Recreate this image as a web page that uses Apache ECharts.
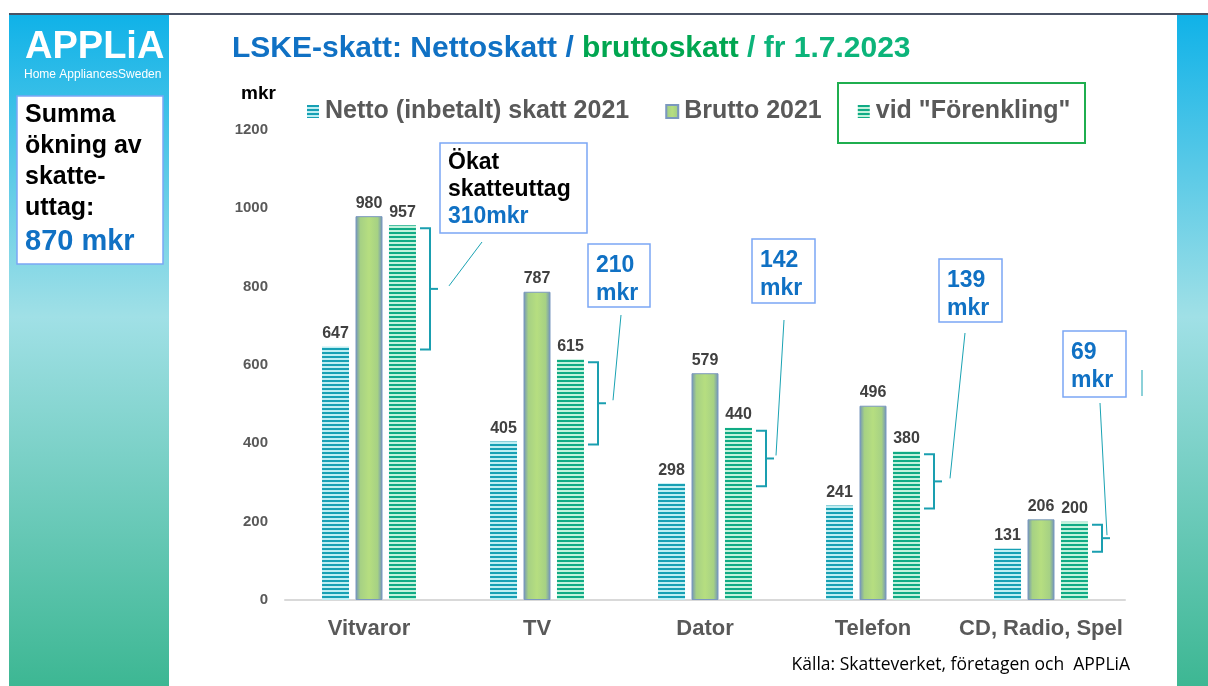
<!DOCTYPE html>
<html>
<head>
<meta charset="utf-8">
<script src="https://cdn.jsdelivr.net/npm/echarts@6/dist/echarts.min.js"></script>
<style>
  html, body { margin: 0; padding: 0; background: #fff; }
  #main { width: 1208px; height: 686px; }
</style>
</head>
<body>
<div id="main"></div>
<script>
var categories = ['Vitvaror', 'TV', 'Dator', 'Telefon', 'CD, Radio, Spel'];
var netto = [647, 405, 298, 241, 131];
var brutto = [980, 787, 579, 496, 206];
var forenkling = [957, 615, 440, 380, 200];
var okning = [310, 210, 142, 139, 69];
var yTicks = [0, 200, 400, 600, 800, 1000, 1200];

// note boxes (layout only): box rect + where the leader line ends
var notes = [
    {x: 440, y: 143, w: 147, h: 90, lx: 482, ly: 242, dx: 80},
    {x: 588, y: 244, w: 62, h: 63, lx: 621, ly: 315, dx: 76},
    {x: 752, y: 239, w: 63, h: 64, lx: 784, ly: 320, dx: 71},
    {x: 939, y: 259, w: 63, h: 63, lx: 965, ly: 333, dx: 77},
    {x: 1063, y: 331, w: 63, h: 66, lx: 1100, ly: 403, dx: 66}
];

var FONT = '"Liberation Sans", Arial, sans-serif';
var BLUE = '#1071c4';

function stripes(dark, light) {
    var c = document.createElement('canvas');
    c.width = 4; c.height = 4;
    var ctx = c.getContext('2d');
    ctx.fillStyle = light; ctx.fillRect(0, 0, 4, 4);
    ctx.fillStyle = dark; ctx.fillRect(0, 0, 4, 2);
    return {image: c, repeat: 'repeat'};
}

var sideGrad = {
    type: 'linear', x: 0, y: 0, x2: 0, y2: 1,
    colorStops: [
        {offset: 0, color: '#10b2e8'},
        {offset: 0.45, color: '#a0e0e6'},
        {offset: 1, color: '#3db793'}
    ]
};

var bruttoColor = {
    type: 'linear', x: 0, y: 0, x2: 1, y2: 0,
    colorStops: [
        {offset: 0, color: '#6f90bb'},
        {offset: 0.18, color: '#a6d184'},
        {offset: 0.5, color: '#b6de80'},
        {offset: 0.82, color: '#a6d184'},
        {offset: 1, color: '#6f90bb'}
    ]
};

var bracketData = categories.map(function (c, i) {
    return [i, forenkling[i], netto[i]];
});

function renderBracket(params, api) {
    var i = api.value(0);
    var top = api.coord([i, api.value(1)]);
    var bot = api.coord([i, api.value(2)]);
    var cx = top[0];
    var yt = top[1] + 3, yb = bot[1] + 3, ym = (yt + yb) / 2;
    var st = {stroke: '#1a9fb0', lineWidth: 2, fill: null};
    var n = notes[i];
    return {
        type: 'group',
        children: [
            {type: 'polyline', shape: {points: [[cx + 51, yt], [cx + 61, yt], [cx + 61, yb], [cx + 51, yb]]}, style: st},
            {type: 'line', shape: {x1: cx + 61, y1: ym, x2: cx + 69, y2: ym}, style: st},
            {type: 'line', shape: {x1: cx + n.dx, y1: ym - 3, x2: n.lx, y2: n.ly}, style: {stroke: '#1aa3b3', lineWidth: 1}}
        ]
    };
}

var graphics = [
    {type: 'rect', shape: {x: 9, y: 15, width: 160, height: 671}, style: {fill: sideGrad}, silent: true},
    {type: 'rect', shape: {x: 1177, y: 15, width: 31, height: 671}, style: {fill: sideGrad}, silent: true},
    {type: 'line', shape: {x1: 9, y1: 14, x2: 1208, y2: 14}, style: {stroke: '#4a5264', lineWidth: 2}},
    {type: 'text', left: 25, top: 29, style: {text: 'APPLiA', fill: '#fff', font: 'bold 38px ' + FONT}},
    {type: 'text', left: 24, top: 69, style: {text: 'Home AppliancesSweden', fill: '#fff', font: '12px ' + FONT}},
    {type: 'rect', shape: {x: 17, y: 96, width: 146, height: 168}, style: {fill: '#fff', stroke: '#7ba7f5', lineWidth: 1.5}},
    {type: 'text', left: 25, top: 103, style: {
        text: '{k|Summa}\n{k|ökning av}\n{k|skatte-}\n{k|uttag:}\n{b|870 mkr}',
        rich: {
            k: {font: 'bold 25px ' + FONT, fill: '#000', lineHeight: 31},
            b: {font: 'bold 29px ' + FONT, fill: BLUE, lineHeight: 36}
        }
    }},
    {type: 'text', left: 232, top: 34, style: {
        text: '{a|LSKE-skatt: Nettoskatt / }{g|bruttoskatt}{t| / fr 1.7.2023}',
        rich: {
            a: {font: 'bold 30px ' + FONT, fill: BLUE},
            g: {font: 'bold 30px ' + FONT, fill: '#00a650'},
            t: {font: 'bold 30px ' + FONT, fill: '#0cb47a'}
        }
    }},
    {type: 'text', left: 241, top: 84, style: {text: 'mkr', fill: '#000', font: 'bold 19px ' + FONT}},
    {type: 'rect', shape: {x: 838, y: 83, width: 247, height: 60}, style: {fill: null, stroke: '#1fae4f', lineWidth: 2}},
    {type: 'line', shape: {x1: 1142, y1: 370, x2: 1142, y2: 396}, style: {stroke: '#1aa3b3', lineWidth: 1}},
    {type: 'text', right: 78, top: 656, style: {text: 'Källa: Skatteverket, företagen och  APPLiA', fill: '#000', font: '17.5px "Open Sans", sans-serif'}}
];

notes.forEach(function (n, i) {
    graphics.push({type: 'rect', shape: {x: n.x, y: n.y, width: n.w, height: n.h},
        style: {fill: '#fff', stroke: '#7ba7f5', lineWidth: 1.5}});
    var txt = i === 0
        ? '{k|Ökat}\n{k|skatteuttag}\n{b|' + okning[i] + 'mkr}'
        : '{b|' + okning[i] + '}\n{b|mkr}';
    graphics.push({type: 'text', left: n.x + 8, top: n.y + (i === 0 ? 8 : 10), style: {
        text: txt,
        rich: {
            k: {font: 'bold 23px ' + FONT, fill: '#000', lineHeight: 27},
            b: {font: 'bold 23px ' + FONT, fill: BLUE, lineHeight: 28}
        }
    }});
});

var labelStyle = {show: true, position: 'top', distance: 5, color: '#404040', fontSize: 16, fontWeight: 'bold', fontFamily: FONT};

var option = {
    animation: false,
    backgroundColor: '#fff',
    graphic: graphics,
    legend: {
        left: 302, top: 94,
        itemGap: 36, itemWidth: 12, itemHeight: 13, icon: 'rect',
        textStyle: {fontSize: 25, fontWeight: 'bold', color: '#595959', fontFamily: FONT, padding: [0, 0, 0, 1]},
        data: ['Netto (inbetalt) skatt 2021', 'Brutto 2021', 'vid "Förenkling"']
    },
    grid: {left: 285, right: 83, top: 130, bottom: 86},
    xAxis: {
        type: 'category', data: categories,
        axisLine: {lineStyle: {color: '#d9d9d9', width: 2}},
        axisTick: {show: false},
        axisLabel: {interval: 0, margin: 18, fontSize: 22, fontWeight: 'bold', color: '#595959', fontFamily: FONT}
    },
    yAxis: {
        type: 'value', min: yTicks[0], max: yTicks[yTicks.length - 1], interval: 200,
        splitLine: {show: false}, axisLine: {show: false}, axisTick: {show: false},
        axisLabel: {margin: 17, fontSize: 15, fontWeight: 'bold', color: '#595959', fontFamily: FONT,
            formatter: function (v) { return String(v); }}
    },
    series: [
        {name: 'Netto (inbetalt) skatt 2021', type: 'bar', data: netto, barWidth: 27, barGap: '24%',
            itemStyle: {color: stripes('#17a0b4', '#bfeef2')}, label: labelStyle},
        {name: 'Brutto 2021', type: 'bar', data: brutto, barWidth: 27,
            itemStyle: {color: bruttoColor, borderColor: '#7b98bf', borderWidth: 1}, label: labelStyle},
        {name: 'vid "Förenkling"', type: 'bar', data: forenkling, barWidth: 27,
            itemStyle: {color: stripes('#10ab85', '#c2f2dc')}, label: labelStyle},
        {type: 'custom', renderItem: renderBracket, data: bracketData, silent: true, z: 5,
            encode: {x: 0, y: [1, 2]}}
    ]
};

echarts.init(document.getElementById('main')).setOption(option);
</script>
</body>
</html>
